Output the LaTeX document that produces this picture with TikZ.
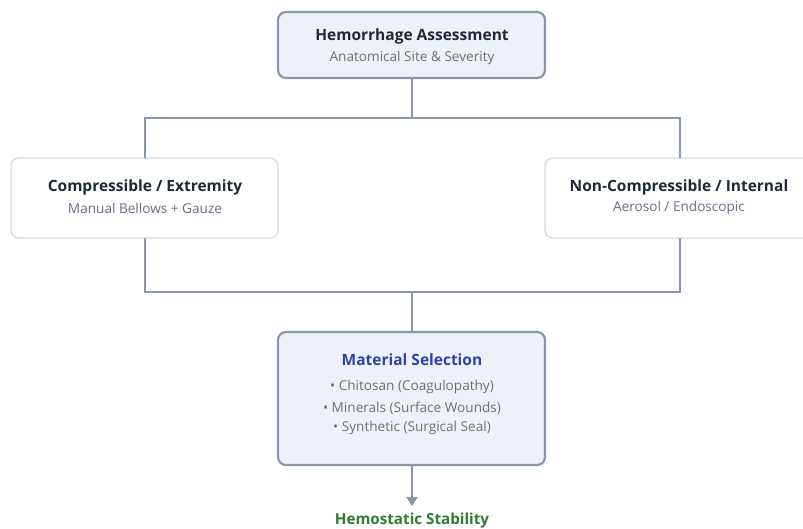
\documentclass[tikz,border=0pt]{standalone}
\usepackage{fontspec}
\setmainfont{Open Sans}
\usetikzlibrary{arrows.meta}
\definecolor{edgec}{HTML}{8A97AB}
\definecolor{boxfill}{HTML}{EEF2F8}
\definecolor{lightb}{HTML}{D3DAE3}
\definecolor{titlec}{HTML}{1F2937}
\definecolor{subc}{HTML}{667085}
\definecolor{bluec}{HTML}{2B44A8}
\definecolor{greenc}{HTML}{2E7D32}
\tikzset{
  mainbox/.style={draw=edgec, line width=2.2pt, fill=boxfill, rounded corners=8pt},
  sidebox/.style={draw=lightb, line width=1.4pt, fill=white, rounded corners=8pt},
  conn/.style={draw=edgec, line width=2.2pt},
  ttl/.style={font=\bfseries\fontsize{15.5}{18}\selectfont, text=titlec},
  sub/.style={font=\fontsize{13.6}{16}\selectfont, text=subc},
}
\begin{document}
\begin{tikzpicture}[x=1pt,y=-1pt]
\useasboundingbox (0,0) rectangle (803,528);
\clip (0,0) rectangle (803,528);
% boxes
\draw[mainbox] (278,12) rectangle (545,78);
\coordinate (topb) at (412,78);
\node[ttl] (t1) at (412,36) {Hemorrhage Assessment};
\node[sub] (t2) at (412,58) {Anatomical Site \& Severity};

\draw[sidebox] (11,158) rectangle (278,238);
\coordinate (lt) at (145,158);
\coordinate (lb) at (145,238);
\node[ttl] (l1) at (145,187) {Compressible / Extremity};
\node[sub] (l2) at (145,208) {Manual Bellows + Gauze};

\draw[sidebox] (545,158) rectangle (814,238);
\coordinate (rt) at (680,158);
\coordinate (rb) at (680,238);
\node[ttl] (r1) at (679,187) {Non-Compressible / Internal};
\node[sub] (r2) at (679,208) {Aerosol / Endoscopic};

\draw[mainbox] (278,332) rectangle (545,465);
\coordinate (mt) at (412,332);
\coordinate (mb) at (412,465);
\node[ttl, text=bluec] (m1) at (412,360) {Material Selection};
\node[sub] (m2) at (412,387) {• Chitosan (Coagulopathy)};
\node[sub] (m3) at (412,408) {• Minerals (Surface Wounds)};
\node[sub] (m4) at (412,428) {• Synthetic (Surgical Seal)};

\node[font=\bfseries\fontsize{15.2}{17}\selectfont, text=greenc] (h) at (412,521) {Hemostatic Stability};
\coordinate (hend) at (412,506);

% connectors
\coordinate (s1) at (412,118);
\coordinate (s2) at (412,292);
\draw[conn] (topb) -- (s1);
\draw[conn] (lt) |- (s1) -| (rt);
\draw[conn] (lb) |- (s2) -| (rb);
\draw[conn] (s2) -- (mt);
\draw[conn, -{Triangle[length=9pt,width=11pt]}] (mb) -- (hend);
\end{tikzpicture}
\end{document}
